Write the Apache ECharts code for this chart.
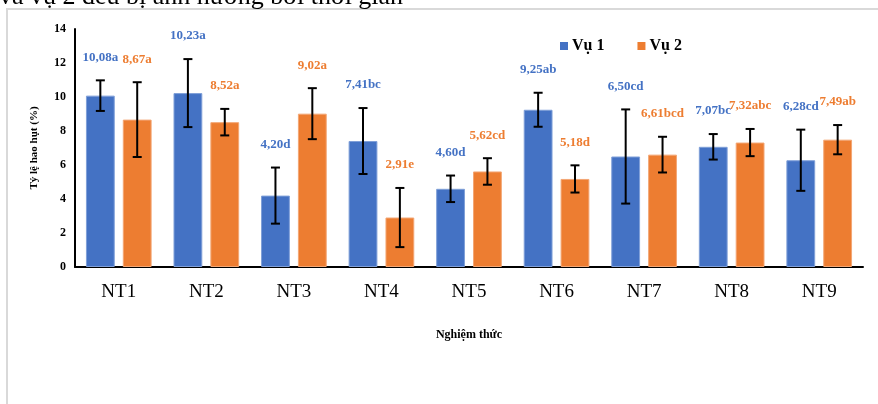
<!DOCTYPE html>
<html>
<head>
<meta charset="utf-8">
<script src="https://cdn.jsdelivr.net/npm/echarts@6/dist/echarts.min.js"></script>
<style>
  html, body { margin: 0; padding: 0; background: #fff; }
  #chart { width: 878px; height: 404px; }
</style>
</head>
<body>
<div id="chart"></div>
<script>
// treatments and loss rates (%) for both seasons
var categories = ['NT1', 'NT2', 'NT3', 'NT4', 'NT5', 'NT6', 'NT7', 'NT8', 'NT9'];
var vu1 = [10.08, 10.23, 4.20, 7.41, 4.60, 9.25, 6.50, 7.07, 6.28];
var vu2 = [8.67, 8.52, 9.02, 2.91, 5.62, 5.18, 6.61, 7.32, 7.49];
// error bar half-lengths
var sd1 = [0.9, 2.0, 1.65, 1.94, 0.78, 1.0, 2.77, 0.75, 1.8];
var sd2 = [2.2, 0.78, 1.5, 1.74, 0.78, 0.8, 1.05, 0.8, 0.86];
// significance letters
var letters1 = ['a', 'a', 'd', 'bc', 'd', 'ab', 'cd', 'bc', 'cd'];
var letters2 = ['a', 'a', 'a', 'e', 'cd', 'd', 'bcd', 'abc', 'ab'];

var blue = '#4472C4';
var orange = '#ED7D31';
var serif = '"Liberation Serif", "Times New Roman", serif';

function errData(vals, sd, letters) {
  return vals.map(function (v, i) {
    return [i, v - sd[i], v + sd[i], v.toFixed(2).replace('.', ',') + letters[i]];
  });
}

// draws the error bar and the value label above it
function errorItem(side, color) {
  return function (params, api) {
    var idx = api.value(0);
    var lo = api.coord([idx, api.value(1)]);
    var hi = api.coord([idx, api.value(2)]);
    var band = api.size([1, 0])[0];
    var barW = band * 0.75 / 2.28;
    var x = lo[0] + side * barW * 1.28 / 2;
    var cap = 4.5;
    var st = { stroke: '#000', lineWidth: 2 };
    return {
      type: 'group',
      children: [
        { type: 'line', shape: { x1: x, y1: lo[1], x2: x, y2: hi[1] }, style: st },
        { type: 'line', shape: { x1: x - cap, y1: lo[1], x2: x + cap, y2: lo[1] }, style: st },
        { type: 'line', shape: { x1: x - cap, y1: hi[1], x2: x + cap, y2: hi[1] }, style: st },
        {
          type: 'text', x: x, y: hi[1] - 23,
          style: {
            text: api.value(3), fill: color, align: 'center', verticalAlign: 'middle',
            font: 'bold 13px ' + serif
          }
        }
      ]
    };
  };
}

var chart = echarts.init(document.getElementById('chart'));
chart.setOption({
  animation: false,
  backgroundColor: '#fff',
  graphic: [
    {
      type: 'rect', silent: true,
      shape: { x: 7, y: 9, width: 920, height: 460 },
      style: { fill: 'none', stroke: '#d9d9d9', lineWidth: 2 }
    },
    {
      type: 'text', x: -1, y: 10,
      style: {
        text: 'và vụ 2 đều bị ảnh hưởng bởi thời gian', fill: '#000',
        font: '26px ' + serif, verticalAlign: 'bottom'
      }
    }
  ],
  legend: {
    data: ['Vụ 1', 'Vụ 2'],
    left: 555, top: 33,
    icon: 'rect', itemWidth: 8, itemHeight: 8, itemGap: 33,
    itemStyle: { borderWidth: 0 },
    textStyle: { fontFamily: serif, fontWeight: 'bold', fontSize: 16, color: '#000', padding: [0, 0, 0, -1] }
  },
  grid: { left: 75, right: 15, top: 29, bottom: 137 },
  xAxis: {
    type: 'category',
    data: categories,
    axisLine: { lineStyle: { color: '#000', width: 2 } },
    axisTick: { show: false },
    axisLabel: { color: '#000', fontFamily: serif, fontSize: 19, margin: 16 },
    name: 'Nghiệm thức',
    nameLocation: 'middle',
    nameGap: 62,
    nameTextStyle: { color: '#000', fontFamily: serif, fontWeight: 'bold', fontSize: 12 }
  },
  yAxis: {
    type: 'value',
    min: 0, max: 14, interval: 2,
    axisLine: { show: true, lineStyle: { color: '#000', width: 2 } },
    axisTick: { show: false },
    splitLine: { show: false },
    axisLabel: { color: '#000', fontFamily: serif, fontWeight: 'bold', fontSize: 12, margin: 9 },
    name: 'Tỷ lệ hao hụt (%)',
    nameLocation: 'middle',
    nameRotate: 90,
    nameGap: 35,
    nameTextStyle: { color: '#000', fontFamily: serif, fontWeight: 'bold', fontSize: 11 }
  },
  series: [
    {
      name: 'Vụ 1', type: 'bar', data: vu1,
      barCategoryGap: '25%', barGap: '28%',
      itemStyle: { color: blue, borderColor: '#7f9fd8', borderWidth: 1 }
    },
    {
      name: 'Vụ 2', type: 'bar', data: vu2,
      itemStyle: { color: orange, borderColor: '#f3a674', borderWidth: 1 }
    },
    {
      type: 'custom', z: 5,
      renderItem: errorItem(-1, blue),
      encode: { x: 0, y: [1, 2] },
      data: errData(vu1, sd1, letters1)
    },
    {
      type: 'custom', z: 5,
      renderItem: errorItem(1, orange),
      encode: { x: 0, y: [1, 2] },
      data: errData(vu2, sd2, letters2)
    }
  ]
});
</script>
</body>
</html>
